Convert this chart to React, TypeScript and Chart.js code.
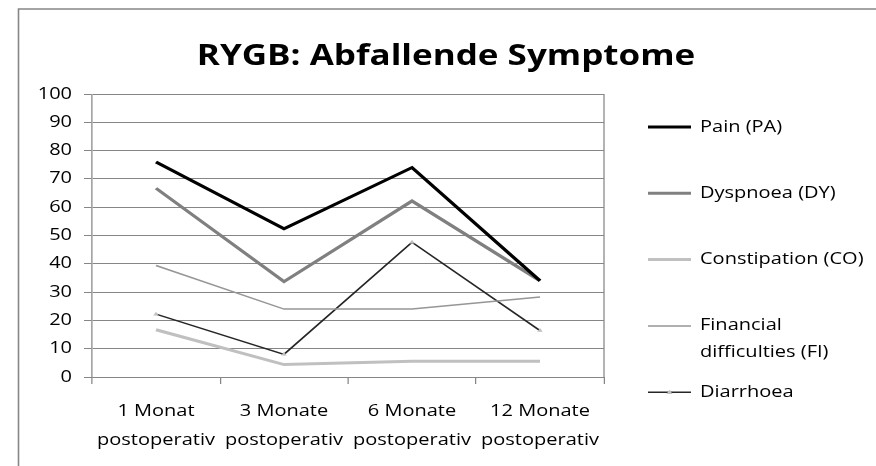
import React, { useEffect, useRef } from 'react';
import { Chart, registerables } from 'chart.js';

Chart.register(...registerables);

// ---- data ----
const categories: string[][] = [
  ['1 Monat', 'postoperativ'],
  ['3 Monate', 'postoperativ'],
  ['6 Monate', 'postoperativ'],
  ['12 Monate', 'postoperativ'],
];
const seriesNames = ['Pain (PA)', 'Dyspnoea (DY)', 'Constipation (CO)', 'Financial\ndifficulties (FI)', 'Diarrhoea'];
const painValues = [76, 52.4, 74, 34];
const dyspnoeaValues = [66.7, 33.7, 62.2, 34];
const constipationValues = [16.7, 4.4, 5.6, 5.6];
const financialValues = [39.4, 24, 24, 28.3];
const diarrhoeaValues = [22.2, 8, 47.6, 16.4];
const yMin = 0;
const yMax = 100;
const yStep = 10;
const chartTitle = 'RYGB: Abfallende Symptome';

// ---- layout / style ----
const W = 876;
const H = 466;
const SX = 1.25; // horizontal stretch of the whole drawing
const FONT = '"Open Sans", "Noto Sans", sans-serif';
const GRID = '#868686';

const framePlugin = {
  id: 'frame',
  beforeDraw(chart: any) {
    const ctx = chart.ctx as CanvasRenderingContext2D;
    ctx.save();
    ctx.fillStyle = '#ffffff';
    ctx.fillRect(0, 0, W, H);
    ctx.strokeStyle = GRID;
    ctx.lineWidth = 1.6;
    ctx.beginPath();
    ctx.moveTo(18.5, H + 5);
    ctx.lineTo(18.5, 9);
    ctx.lineTo(W + 5, 9);
    ctx.stroke();
    ctx.restore();
    ctx.save();
    ctx.scale(SX, 1);
  },
  afterDraw(chart: any) {
    const ctx = chart.ctx as CanvasRenderingContext2D;
    const area = chart.chartArea;
    // plot area right border
    ctx.save();
    ctx.strokeStyle = GRID;
    ctx.lineWidth = 1;
    ctx.beginPath();
    ctx.moveTo(area.right, area.top);
    ctx.lineTo(area.right, area.bottom);
    ctx.stroke();
    ctx.restore();

    // title
    ctx.save();
    ctx.fillStyle = '#000';
    ctx.font = `bold 28px ${FONT}`;
    ctx.textAlign = 'center';
    ctx.textBaseline = 'alphabetic';
    ctx.fillText(chartTitle, 446 / SX, 65);
    ctx.restore();

    // legend
    const x0 = 648 / SX;
    const x1 = 691 / SX;
    const tx = 700 / SX;
    chart.data.datasets.forEach((ds: any, i: number) => {
      const y = 127 + i * 66.3;
      ctx.save();
      ctx.strokeStyle = ds.borderColor;
      ctx.lineWidth = ds.borderWidth;
      ctx.beginPath();
      ctx.moveTo(x0, y);
      ctx.lineTo(x1, y);
      ctx.stroke();
      if (ds.pointRadius > 0) {
        const cx = (x0 + x1) / 2;
        const r = ds.pointRadius;
        ctx.fillStyle = ds.pointBackgroundColor;
        ctx.beginPath();
        ctx.moveTo(cx, y - r);
        ctx.lineTo(cx + r, y + r * 0.7);
        ctx.lineTo(cx - r, y + r * 0.7);
        ctx.closePath();
        ctx.fill();
      }
      ctx.fillStyle = '#000';
      ctx.font = `16px ${FONT}`;
      ctx.textAlign = 'left';
      ctx.textBaseline = 'middle';
      String(ds.label).split('\n').forEach((line: string, j: number) => {
        ctx.fillText(line, tx, y + j * 27);
      });
      ctx.restore();
    });

    ctx.restore();
  },
};

export default function App() {
  const ref = useRef<HTMLCanvasElement | null>(null);

  useEffect(() => {
    document.body.style.margin = '0';
    const canvas = ref.current;
    if (!canvas) return;
    const chart = new Chart(canvas, {
      type: 'line',
      data: {
        labels: categories,
        datasets: [
          {
            label: seriesNames[0],
            data: painValues,
            borderColor: '#000000',
            backgroundColor: '#000000',
            borderWidth: 3,
            pointRadius: 0,
          },
          {
            label: seriesNames[1],
            data: dyspnoeaValues,
            borderColor: '#808080',
            backgroundColor: '#808080',
            borderWidth: 3,
            pointRadius: 0,
          },
          {
            label: seriesNames[2],
            data: constipationValues,
            borderColor: '#c0c0c0',
            backgroundColor: '#c0c0c0',
            borderWidth: 3,
            pointRadius: 0,
          },
          {
            label: seriesNames[3],
            data: financialValues,
            borderColor: '#969696',
            backgroundColor: '#969696',
            borderWidth: 1.5,
            pointRadius: 0,
          },
          {
            label: seriesNames[4],
            data: diarrhoeaValues,
            borderColor: '#262626',
            backgroundColor: '#262626',
            borderWidth: 1.5,
            pointRadius: 2.5,
            pointStyle: 'triangle',
            pointBackgroundColor: '#c0c0c0',
            pointBorderColor: '#c0c0c0',
            pointBorderWidth: 0,
          },
        ] as any,
      },
      options: {
        animation: false,
        responsive: false,
        devicePixelRatio: 1,
        events: [],
        layout: {
          padding: { left: 13.6, right: W - 604 / SX, top: 94, bottom: 0 },
        },
        elements: { line: { tension: 0 } },
        plugins: {
          legend: { display: false },
          title: { display: false },
          tooltip: { enabled: false },
        },
        scales: {
          x: {
            type: 'category',
            offset: true,
            grid: {
              offset: true,
              drawOnChartArea: false,
              tickLength: 7,
              color: GRID,
              tickColor: GRID,
              lineWidth: 1,
            },
            border: { display: true, color: GRID, width: 1 },
            ticks: {
              color: '#000',
              font: { family: FONT, size: 16, lineHeight: 29 / 16 },
              padding: 12.5,
              maxRotation: 0,
              autoSkip: false,
            },
            afterFit: (s: any) => {
              s.height = 89;
            },
          },
          y: {
            min: yMin,
            max: yMax,
            ticks: {
              stepSize: yStep,
              color: '#000',
              font: { family: FONT, size: 16 },
              padding: 9.6,
            },
            grid: { color: GRID, tickColor: GRID, tickLength: 6.4, lineWidth: 1 },
            border: { display: true, color: GRID, width: 1 },
            afterFit: (s: any) => {
              s.width = 60;
            },
          },
        },
      } as any,
      plugins: [framePlugin],
    });
    return () => chart.destroy();
  }, []);

  return (
    <div style={{ position: 'absolute', left: 0, top: 0, width: W, height: H, background: '#fff' }}>
      <canvas ref={ref} width={W} height={H} style={{ display: 'block', width: W, height: H }} />
    </div>
  );
}
